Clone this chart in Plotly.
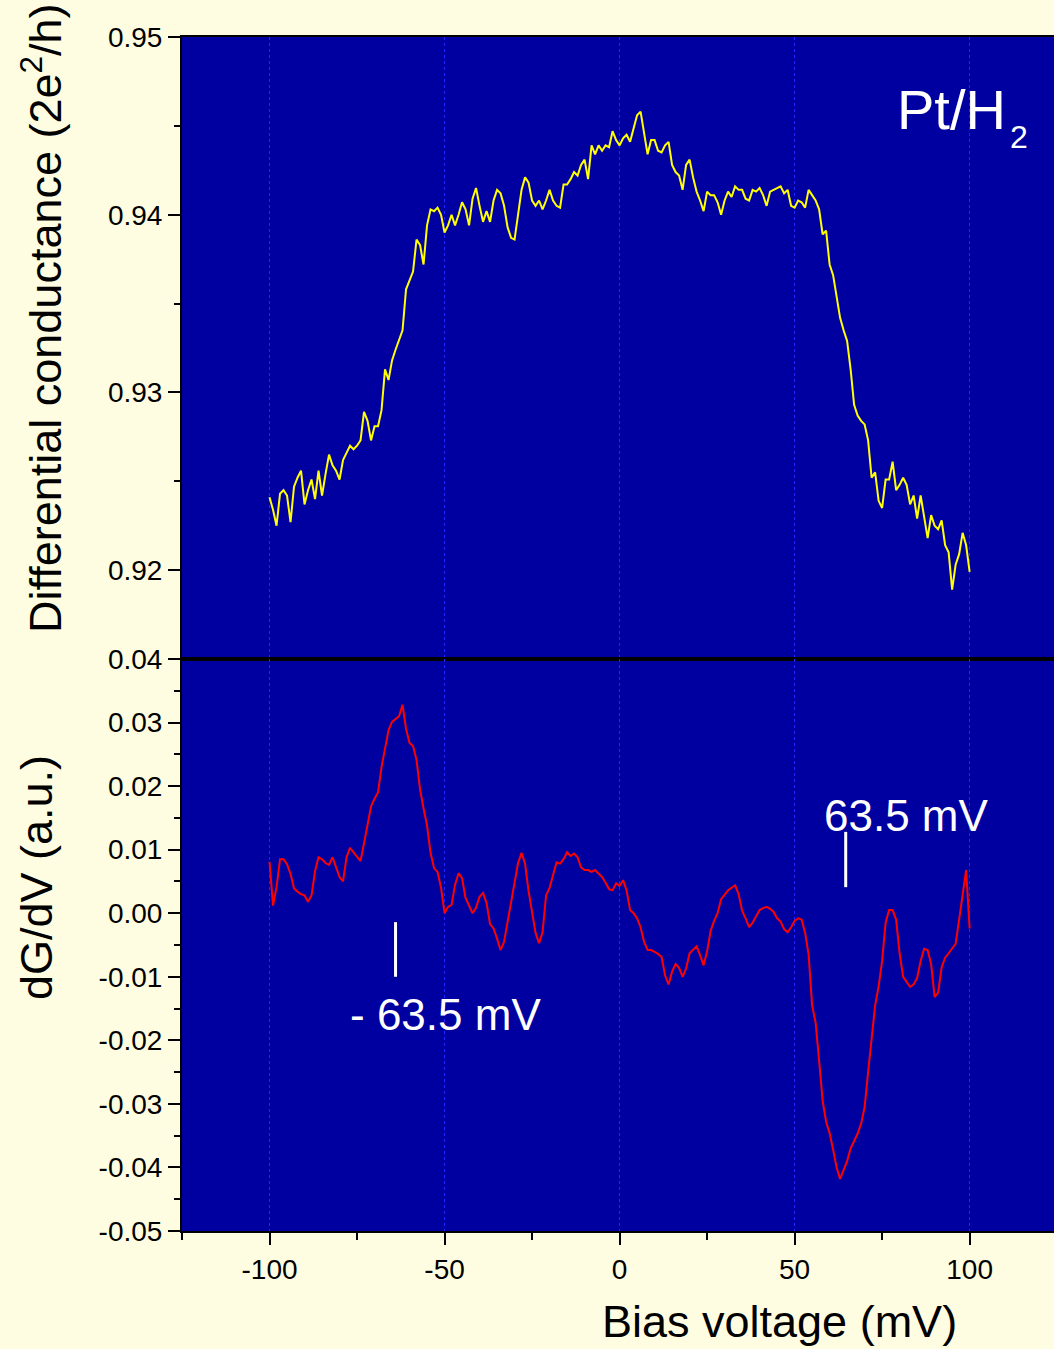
import plotly.graph_objects as go

# ---------------- data ----------------
bias_mv = [
    -100, -99, -98, -97, -96, -95, -94, -93, -92, -91,
    -90, -89, -88, -87, -86, -85, -84, -83, -82, -81,
    -80, -79, -78, -77, -76, -75, -74, -73, -72, -71,
    -70, -69, -68, -67, -66, -65, -64, -63, -62, -61,
    -60, -59, -58, -57, -56, -55, -54, -53, -52, -51,
    -50, -49, -48, -47, -46, -45, -44, -43, -42, -41,
    -40, -39, -38, -37, -36, -35, -34, -33, -32, -31,
    -30, -29, -28, -27, -26, -25, -24, -23, -22, -21,
    -20, -19, -18, -17, -16, -15, -14, -13, -12, -11,
    -10, -9, -8, -7, -6, -5, -4, -3, -2, -1,
    0,
    1, 2, 3, 4, 5, 6, 7, 8, 9, 10,
    11, 12, 13, 14, 15, 16, 17, 18, 19, 20,
    21, 22, 23, 24, 25, 26, 27, 28, 29, 30,
    31, 32, 33, 34, 35, 36, 37, 38, 39, 40,
    41, 42, 43, 44, 45, 46, 47, 48, 49, 50,
    51, 52, 53, 54, 55, 56, 57, 58, 59, 60,
    61, 62, 63, 64, 65, 66, 67, 68, 69, 70,
    71, 72, 73, 74, 75, 76, 77, 78, 79, 80,
    81, 82, 83, 84, 85, 86, 87, 88, 89, 90,
    91, 92, 93, 94, 95, 96, 97, 98, 99, 100,
]

conductance = [
    0.9241, 0.9234, 0.9225, 0.9243, 0.9245, 0.9242, 0.9227, 0.9247, 0.9252, 0.9256,
    0.9237, 0.9245, 0.9251, 0.9240, 0.9256, 0.9242, 0.9254, 0.9265, 0.9259, 0.9256,
    0.9251, 0.9262, 0.9266, 0.9270, 0.9268, 0.9270, 0.9273, 0.9289, 0.9284, 0.9273,
    0.9281, 0.9281, 0.9290, 0.9313, 0.9307, 0.9318, 0.9324, 0.9329, 0.9335, 0.9358,
    0.9363, 0.9368, 0.9386, 0.9383, 0.9372, 0.9394, 0.9403, 0.9402, 0.9404, 0.9400,
    0.9390, 0.9394, 0.9400, 0.9394, 0.9400, 0.9407, 0.9403, 0.9394, 0.9409, 0.9415,
    0.9405, 0.9396, 0.9402, 0.9396, 0.9408, 0.9414, 0.9412, 0.9405, 0.9393, 0.9387,
    0.9386, 0.9400, 0.9414, 0.9421, 0.9418, 0.9408, 0.9405, 0.9408, 0.9403, 0.9408,
    0.9414, 0.9408, 0.9405, 0.9404, 0.9417, 0.9417, 0.9420, 0.9424, 0.9422, 0.9428,
    0.9431, 0.9420, 0.9439, 0.9434, 0.9439, 0.9436, 0.9439, 0.9438, 0.9447, 0.9442,
    0.9439,
    0.9443, 0.9445, 0.9441, 0.9448, 0.9456, 0.9458, 0.9445, 0.9434, 0.9442, 0.9442,
    0.9436, 0.9435, 0.9439, 0.9441, 0.9428, 0.9424, 0.9422, 0.9414, 0.9428, 0.9431,
    0.9421, 0.9413, 0.9408, 0.9402, 0.9413, 0.9411, 0.9411, 0.9407, 0.9400, 0.9408,
    0.9413, 0.9410, 0.9416, 0.9414, 0.9414, 0.9409, 0.9408, 0.9414, 0.9413, 0.9415,
    0.9411, 0.9405, 0.9413, 0.9414, 0.9415, 0.9416, 0.9412, 0.9414, 0.9405, 0.9404,
    0.9408, 0.9407, 0.9404, 0.9414, 0.9411, 0.9408, 0.9403, 0.9389, 0.9391, 0.9372,
    0.9366, 0.9355, 0.9342, 0.9335, 0.9329, 0.9313, 0.9293, 0.9287, 0.9284, 0.9282,
    0.9273, 0.9252, 0.9255, 0.9239, 0.9235, 0.9251, 0.9251, 0.9261, 0.9245, 0.9248,
    0.9252, 0.9248, 0.9237, 0.9242, 0.9229, 0.9242, 0.9229, 0.9218, 0.9231, 0.9225,
    0.9223, 0.9228, 0.9214, 0.9210, 0.9189, 0.9203, 0.9209, 0.9221, 0.9214, 0.9199,
]

dgdv = [
    0.0081, 0.0012, 0.0041, 0.0085, 0.0085, 0.0077, 0.0062, 0.0039, 0.0034, 0.0030,
    0.0028, 0.0018, 0.0028, 0.0066, 0.0088, 0.0085, 0.0079, 0.0076, 0.0088, 0.0073,
    0.0057, 0.0050, 0.0088, 0.0103, 0.0096, 0.0088, 0.0082, 0.0110, 0.0142, 0.0168,
    0.0180, 0.0190, 0.0230, 0.0258, 0.0288, 0.0301, 0.0305, 0.0310, 0.0328, 0.0290,
    0.0268, 0.0263, 0.0241, 0.0195, 0.0165, 0.0138, 0.0095, 0.0071, 0.0065, 0.0040,
    0.0000, 0.0010, 0.0013, 0.0045, 0.0063, 0.0055, 0.0024, 0.0012, 0.0000, 0.0009,
    0.0026, 0.0032, 0.0016, -0.0017, -0.0024, -0.0040, -0.0058, -0.0045, -0.0015, 0.0020,
    0.0050, 0.0079, 0.0095, 0.0078, 0.0035, 0.0005, -0.0031, -0.0047, -0.0030, 0.0028,
    0.0040, 0.0060, 0.0080, 0.0078, 0.0085, 0.0096, 0.0090, 0.0094, 0.0088, 0.0072,
    0.0068, 0.0068, 0.0065, 0.0068, 0.0063, 0.0057, 0.0048, 0.0038, 0.0036, 0.0047,
    0.0043,
    0.0052, 0.0036, 0.0005, 0.0000, -0.0008, -0.0022, -0.0045, -0.0058, -0.0058, -0.0061,
    -0.0064, -0.0069, -0.0098, -0.0112, -0.0092, -0.0080, -0.0086, -0.0100, -0.0087, -0.0063,
    -0.0057, -0.0052, -0.0066, -0.0082, -0.0060, -0.0028, -0.0012, 0.0000, 0.0022, 0.0030,
    0.0036, 0.0040, 0.0044, 0.0030, 0.0004, -0.0008, -0.0022, -0.0015, -0.0006, 0.0005,
    0.0008, 0.0010, 0.0007, 0.0002, -0.0008, -0.0013, -0.0025, -0.0030, -0.0022, -0.0012,
    -0.0008, -0.0010, -0.0031, -0.0065, -0.0145, -0.0172, -0.0232, -0.0295, -0.0328, -0.0346,
    -0.0372, -0.0400, -0.0418, -0.0405, -0.0390, -0.0370, -0.0358, -0.0347, -0.0331, -0.0305,
    -0.0250, -0.0199, -0.0145, -0.0115, -0.0075, -0.0015, 0.0005, 0.0005, -0.0010, -0.0063,
    -0.0100, -0.0108, -0.0116, -0.0112, -0.0102, -0.0075, -0.0056, -0.0058, -0.0080, -0.0132,
    -0.0125, -0.0085, -0.0070, -0.0063, -0.0055, -0.0048, -0.0010, 0.0032, 0.0068, -0.0024,
]

x_ticks = [-100, -50, 0, 50, 100]
x_ticklabels = ["-100", "-50", "0", "50", "100"]
x_minor = [-125, -75, -25, 25, 75]
top_yticks = [0.92, 0.93, 0.94, 0.95]
top_yticklabels = ["0.92", "0.93", "0.94", "0.95"]
top_yminor = [0.915, 0.925, 0.935, 0.945]
bot_yticks = [-0.05, -0.04, -0.03, -0.02, -0.01, 0.0, 0.01, 0.02, 0.03, 0.04]
bot_yticklabels = ["-0.05", "-0.04", "-0.03", "-0.02", "-0.01", "0.00",
                   "0.01", "0.02", "0.03", "0.04"]
bot_yminor = [-0.045, -0.035, -0.025, -0.015, -0.005, 0.005, 0.015, 0.025, 0.035]

# marker annotations (bias in mV, dG/dV values)
pos_marker_x = 64.6
pos_marker_y = [0.0041, 0.0128]
neg_marker_x = -64.0
neg_marker_y = [-0.0100, -0.0014]

# ---------------- styling ----------------
W, H = 1054, 1349
ML, MR, MT, MB = 182, 0, 37, 118
PW, PH = W - ML - MR, H - MT - MB
split = (H - MB - 659) / PH

BG = "#FFFDE1"
PLOT_BG = "#0000A0"
FONT = "Liberation Sans, Arial, sans-serif"
GRID = "#2424FF"


def px(xp):
    return (xp - ML) / PW


def py(yp):
    return (H - MB - yp) / PH


fig = go.Figure()
fig.add_trace(go.Scatter(x=bias_mv, y=conductance, mode="lines",
                         line=dict(color="#FFFF00", width=2),
                         xaxis="x", yaxis="y", showlegend=False))
fig.add_trace(go.Scatter(x=bias_mv, y=dgdv, mode="lines",
                         line=dict(color="#FF0000", width=2),
                         xaxis="x2", yaxis="y2", showlegend=False))

xrange_ = [-125.0, 124.1]
common_x = dict(range=xrange_, tickmode="array", tickvals=x_ticks,
                showline=True, linecolor="black", linewidth=2, mirror=True,
                showgrid=True, gridcolor=GRID, griddash="dot", gridwidth=1,
                zeroline=False)
common_y = dict(showline=True, linecolor="black", linewidth=2,
                showgrid=False, zeroline=False, tickmode="array",
                ticks="outside", ticklen=12, tickwidth=2, tickcolor="black",
                tickfont=dict(size=28, color="black", family=FONT))

fig.update_layout(
    width=W, height=H,
    margin=dict(l=ML, r=MR, t=MT, b=MB),
    paper_bgcolor=BG, plot_bgcolor=PLOT_BG,
    font=dict(family=FONT, color="black"),
    showlegend=False,
    xaxis=dict(domain=[0, 1], anchor="y", showticklabels=False, ticks="",
               **common_x),
    yaxis=dict(domain=[split, 1], anchor="x", range=[0.915, 0.95],
               tickvals=top_yticks, ticktext=top_yticklabels,
               minor=dict(tickmode="array", tickvals=top_yminor, ticks="outside",
                          ticklen=6, tickwidth=2, tickcolor="black"),
               **common_y),
    xaxis2=dict(domain=[0, 1], anchor="y2", ticktext=x_ticklabels,
                ticks="outside", ticklen=12, tickwidth=2, tickcolor="black",
                tickfont=dict(size=28, color="black", family=FONT),
                minor=dict(tickmode="array", tickvals=x_minor, ticks="outside",
                           ticklen=7, tickwidth=2, tickcolor="black", showgrid=False),
                **common_x),
    yaxis2=dict(domain=[0, split], anchor="x2", range=[-0.05, 0.04],
                tickvals=bot_yticks, ticktext=bot_yticklabels,
                minor=dict(tickmode="array", tickvals=bot_yminor, ticks="outside",
                           ticklen=6, tickwidth=2, tickcolor="black"),
                **common_y),
)

# marker lines
fig.add_shape(type="line", xref="x2", yref="y2", x0=pos_marker_x, x1=pos_marker_x,
              y0=pos_marker_y[0], y1=pos_marker_y[1], line=dict(color="white", width=3))
fig.add_shape(type="line", xref="x2", yref="y2", x0=neg_marker_x, x1=neg_marker_x,
              y0=neg_marker_y[0], y1=neg_marker_y[1], line=dict(color="white", width=3))

ann = [
    dict(text="Pt/H", xref="paper", yref="paper", x=px(895), y=py(109),
         xanchor="left", yanchor="middle", showarrow=False,
         font=dict(size=56, color="white", family=FONT)),
    dict(text="2", xref="paper", yref="paper", x=px(1008), y=py(137),
         xanchor="left", yanchor="middle", showarrow=False,
         font=dict(size=32, color="white", family=FONT)),
    dict(text="63.5 mV", xref="x2", yref="y2", x=82.0, y=0.0153,
         xanchor="center", yanchor="middle", showarrow=False,
         font=dict(size=44, color="white", family=FONT)),
    dict(text="- 63.5 mV", xref="x2", yref="y2", x=-49.7, y=-0.0160,
         xanchor="center", yanchor="middle", showarrow=False,
         font=dict(size=44, color="white", family=FONT)),
    dict(text="Differential conductance (2e<sup>2</sup>/h)", xref="paper", yref="paper",
         x=px(42), y=py(318), xanchor="center", yanchor="middle", textangle=-90,
         showarrow=False, font=dict(size=45, color="black", family=FONT)),
    dict(text="dG/dV (a.u.)", xref="paper", yref="paper",
         x=px(36), y=py(878), xanchor="center", yanchor="middle", textangle=-90,
         showarrow=False, font=dict(size=45, color="black", family=FONT)),
    dict(text="Bias voltage (mV)", xref="paper", yref="paper",
         x=px(779), y=py(1322), xanchor="center", yanchor="middle",
         showarrow=False, font=dict(size=45, color="black", family=FONT)),
]
fig.update_layout(annotations=ann)

fig.write_html(
    "out.html",
    config={"displayModeBar": False},
    post_script="document.body.style.margin='0';document.body.style.padding='0';"
                "document.documentElement.style.overflow='hidden';",
)
